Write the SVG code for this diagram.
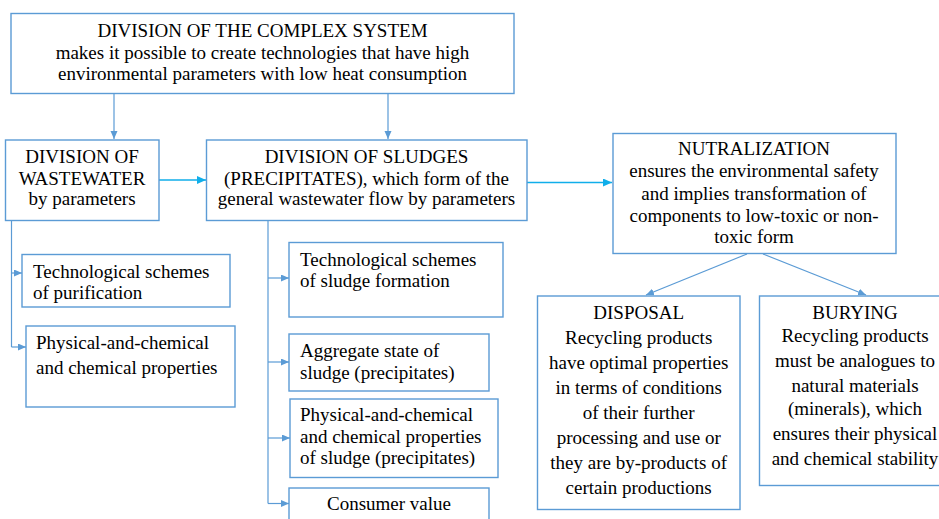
<svg xmlns="http://www.w3.org/2000/svg" width="939" height="519" viewBox="0 0 939 519">
  <defs>
    <marker id="head" markerUnits="userSpaceOnUse" markerWidth="9" markerHeight="8" refX="8" refY="3.5" orient="auto">
      <path d="M0,0 L8,3.5 L0,7 z" fill="#5B9BD5"/>
    </marker>
    <marker id="headBright" markerUnits="userSpaceOnUse" markerWidth="10" markerHeight="9" refX="9" refY="4" orient="auto">
      <path d="M0,0 L9,4 L0,8 z" fill="#10AEEA"/>
    </marker>
  </defs>
  <rect width="939" height="519" fill="#FFFFFF"/>

  <g id="connectors" fill="none">
    <g stroke="#5B9BD5" stroke-width="1.2">
      <line x1="114" y1="93" x2="114" y2="139" marker-end="url(#head)"/>
      <line x1="388" y1="93" x2="388" y2="139" marker-end="url(#head)"/>
      <!-- wastewater branch -->
      <path d="M11.5,221 V347"/>
      <line x1="11.5" y1="273" x2="22" y2="273" marker-end="url(#head)"/>
      <line x1="11.5" y1="347" x2="26" y2="347" marker-end="url(#head)"/>
      <!-- sludge branch -->
      <path d="M268,221 V503.5"/>
      <line x1="268" y1="278" x2="289" y2="278" marker-end="url(#head)"/>
      <line x1="268" y1="362" x2="289" y2="362" marker-end="url(#head)"/>
      <line x1="268" y1="438" x2="290" y2="438" marker-end="url(#head)"/>
      <line x1="268" y1="503.5" x2="289" y2="503.5" marker-end="url(#head)"/>
      <!-- neutralization outcomes -->
      <line x1="747" y1="254" x2="646" y2="295" marker-end="url(#head)"/>
      <line x1="763" y1="254" x2="866" y2="295" marker-end="url(#head)"/>
    </g>
    <g stroke="#10AEEA" stroke-width="1.5">
      <line x1="159" y1="180" x2="206" y2="180" marker-end="url(#headBright)"/>
      <line x1="527" y1="182.5" x2="612" y2="182.5" marker-end="url(#headBright)"/>
    </g>
  </g>

  <g id="complex-system">
    <rect fill="#FFFFFF" stroke="#5B9BD5" stroke-width="1.4" x="11" y="13.5" width="503" height="80"/>
    <text font-family="Liberation Serif" font-size="19" text-anchor="middle" x="262.5" y="37">DIVISION OF THE COMPLEX SYSTEM</text>
    <text font-family="Liberation Serif" font-size="19" text-anchor="middle" x="262.5" y="58.5">makes it possible to create technologies that have high</text>
    <text font-family="Liberation Serif" font-size="19" text-anchor="middle" x="262.5" y="80">environmental parameters with low heat consumption</text>
  </g>

  <g id="wastewater">
    <rect fill="#FFFFFF" stroke="#5B9BD5" stroke-width="1.4" x="5.5" y="140" width="153.5" height="80.5"/>
    <text font-family="Liberation Serif" font-size="19" text-anchor="middle" x="82" y="163">DIVISION OF</text>
    <text font-family="Liberation Serif" font-size="19" text-anchor="middle" x="82" y="185">WASTEWATER</text>
    <text font-family="Liberation Serif" font-size="19" text-anchor="middle" x="82" y="205">by parameters</text>
  </g>

  <g id="sludges">
    <rect fill="#FFFFFF" stroke="#5B9BD5" stroke-width="1.4" x="206.5" y="140" width="320.5" height="80.5"/>
    <text font-family="Liberation Serif" font-size="19" text-anchor="middle" x="366.5" y="163">DIVISION OF SLUDGES</text>
    <text font-family="Liberation Serif" font-size="19" text-anchor="middle" x="366.5" y="185">(PRECIPITATES), which form of the</text>
    <text font-family="Liberation Serif" font-size="19" text-anchor="middle" x="366.5" y="205">general wastewater flow by parameters</text>
  </g>

  <g id="purification-schemes">
    <rect fill="#FFFFFF" stroke="#5B9BD5" stroke-width="1.4" x="22" y="254.5" width="208" height="52.5"/>
    <text font-family="Liberation Serif" font-size="19" x="33" y="278">Technological schemes</text>
    <text font-family="Liberation Serif" font-size="19" x="33" y="299">of purification</text>
  </g>

  <g id="wastewater-properties">
    <rect fill="#FFFFFF" stroke="#5B9BD5" stroke-width="1.4" x="26" y="326" width="209" height="81"/>
    <text font-family="Liberation Serif" font-size="19" x="36" y="348.5">Physical-and-chemical</text>
    <text font-family="Liberation Serif" font-size="19" x="36" y="374">and chemical properties</text>
  </g>

  <g id="sludge-formation">
    <rect fill="#FFFFFF" stroke="#5B9BD5" stroke-width="1.4" x="289" y="242.5" width="214" height="74.5"/>
    <text font-family="Liberation Serif" font-size="19" x="300" y="266">Technological schemes</text>
    <text font-family="Liberation Serif" font-size="19" x="300" y="287">of sludge formation</text>
  </g>

  <g id="aggregate-state">
    <rect fill="#FFFFFF" stroke="#5B9BD5" stroke-width="1.4" x="289" y="334" width="200" height="57"/>
    <text font-family="Liberation Serif" font-size="19" x="300" y="357">Aggregate state of</text>
    <text font-family="Liberation Serif" font-size="19" x="300" y="379">sludge (precipitates)</text>
  </g>

  <g id="sludge-properties">
    <rect fill="#FFFFFF" stroke="#5B9BD5" stroke-width="1.4" x="290" y="399" width="208" height="78.5"/>
    <text font-family="Liberation Serif" font-size="19" x="300" y="421">Physical-and-chemical</text>
    <text font-family="Liberation Serif" font-size="19" x="300" y="443">and chemical properties</text>
    <text font-family="Liberation Serif" font-size="19" x="300" y="464">of sludge (precipitates)</text>
  </g>

  <g id="consumer-value">
    <rect fill="#FFFFFF" stroke="#5B9BD5" stroke-width="1.4" x="289" y="488" width="200" height="40"/>
    <text font-family="Liberation Serif" font-size="19" text-anchor="middle" x="389" y="510">Consumer value</text>
  </g>

  <g id="neutralization">
    <rect fill="#FFFFFF" stroke="#5B9BD5" stroke-width="1.4" x="613" y="133.5" width="283" height="120"/>
    <text font-family="Liberation Serif" font-size="19" text-anchor="middle" x="754" y="155">NUTRALIZATION</text>
    <text font-family="Liberation Serif" font-size="19" text-anchor="middle" x="754" y="177">ensures the environmental safety</text>
    <text font-family="Liberation Serif" font-size="19" text-anchor="middle" x="754" y="200">and implies transformation of</text>
    <text font-family="Liberation Serif" font-size="19" text-anchor="middle" x="754" y="221.5">components to low-toxic or non-</text>
    <text font-family="Liberation Serif" font-size="19" text-anchor="middle" x="754" y="243">toxic form</text>
  </g>

  <g id="disposal">
    <rect fill="#FFFFFF" stroke="#5B9BD5" stroke-width="1.4" x="537.5" y="296" width="202.5" height="213.5"/>
    <text font-family="Liberation Serif" font-size="19" text-anchor="middle" x="638.7" y="318.5">DISPOSAL</text>
    <text font-family="Liberation Serif" font-size="19" text-anchor="middle" x="638.7" y="343.5">Recycling products</text>
    <text font-family="Liberation Serif" font-size="19" text-anchor="middle" x="638.7" y="368.5">have optimal properties</text>
    <text font-family="Liberation Serif" font-size="19" text-anchor="middle" x="638.7" y="393.5">in terms of conditions</text>
    <text font-family="Liberation Serif" font-size="19" text-anchor="middle" x="638.7" y="418.5">of their further</text>
    <text font-family="Liberation Serif" font-size="19" text-anchor="middle" x="638.7" y="443.5">processing and use or</text>
    <text font-family="Liberation Serif" font-size="19" text-anchor="middle" x="638.7" y="468.5">they are by-products of</text>
    <text font-family="Liberation Serif" font-size="19" text-anchor="middle" x="638.7" y="493.5">certain productions</text>
  </g>

  <g id="burying">
    <rect fill="#FFFFFF" stroke="#5B9BD5" stroke-width="1.4" x="759.5" y="296" width="190" height="189.5"/>
    <text font-family="Liberation Serif" font-size="19" text-anchor="middle" x="855" y="318.5">BURYING</text>
    <text font-family="Liberation Serif" font-size="19" text-anchor="middle" x="855" y="342">Recycling products</text>
    <text font-family="Liberation Serif" font-size="19" text-anchor="middle" x="855" y="367">must be analogues to</text>
    <text font-family="Liberation Serif" font-size="19" text-anchor="middle" x="855" y="392">natural materials</text>
    <text font-family="Liberation Serif" font-size="19" text-anchor="middle" x="855" y="415">(minerals), which</text>
    <text font-family="Liberation Serif" font-size="19" text-anchor="middle" x="855" y="440">ensures their physical</text>
    <text font-family="Liberation Serif" font-size="19" text-anchor="middle" x="855" y="465">and chemical stability</text>
  </g>
</svg>
